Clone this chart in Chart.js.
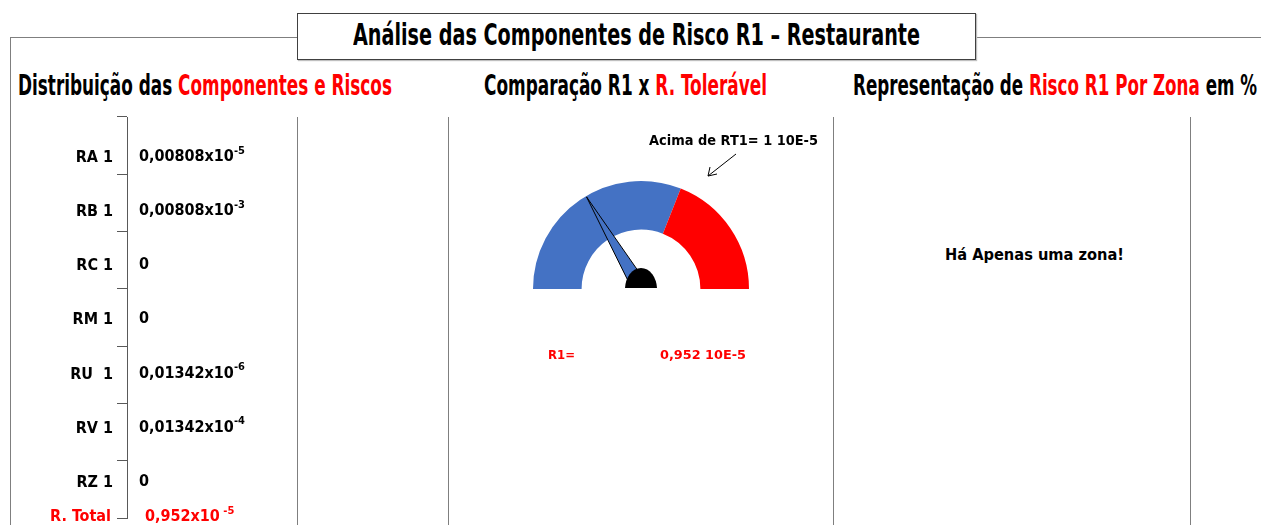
<!DOCTYPE html>
<html>
<head>
<meta charset="utf-8">
<script src="https://cdn.jsdelivr.net/npm/chart.js@4.4.1/dist/chart.umd.min.js"></script>
<style>
  html, body { margin: 0; padding: 0; background: #fff; }
  #page { position: relative; width: 1261px; height: 525px; overflow: hidden; background: #fff; }
  .abs { position: absolute; }
  .frame { left: 10px; top: 37px; width: 1260px; height: 500px; border-top: 1px solid #7f7f7f; border-left: 1px solid #7f7f7f; }
  .titleBox { left: 297px; top: 13px; width: 677px; height: 45px; border: 1px solid #404040; background: #fff; box-shadow: 1px 1px 1px #bfbfbf; }
  .sep { top: 117px; width: 1px; height: 410px; background: #7f7f7f; }
  .cond { font-family: "Liberation Sans Narrow", "DejaVu Sans Condensed", sans-serif; font-weight: bold; white-space: nowrap; transform-origin: 0 0; }
  .txt { font-family: "DejaVu Sans Condensed", "DejaVu Sans", sans-serif; font-weight: bold; white-space: nowrap; line-height: 20px; transform-origin: 0 0; }
  .red { color: #ff0000; }
</style>
</head>
<body>
<div id="page">
  <div class="abs frame"></div>
  <div class="abs titleBox"></div>
  <div class="abs cond fit" data-w="567" style="left:353px; top:19px; font-size:31px; line-height:31px;">Análise das Componentes de Risco R1 – Restaurante</div>

  <div class="abs cond fit" data-w="374" style="left:18px; top:71px; font-size:29px; line-height:29px;">Distribuição das <span class="red">Componentes e Riscos</span></div>
  <div class="abs cond fit" data-w="283" style="left:484px; top:71px; font-size:29px; line-height:29px;">Comparação R1 x <span class="red">R. Tolerável</span></div>
  <div class="abs cond fit" data-w="404" style="left:853px; top:71px; font-size:29px; line-height:29px;">Representação de <span class="red">Risco R1 Por Zona</span> em %</div>

  <div class="abs sep" style="left:297px;"></div>
  <div class="abs sep" style="left:448px;"></div>
  <div class="abs sep" style="left:833px;"></div>
  <div class="abs sep" style="left:1190px;"></div>

  <canvas id="barChart" class="abs" width="297" height="525" style="left:0; top:0;"></canvas>
  <canvas id="gaugeChart" class="abs" width="384" height="415" style="left:449px; top:110px;"></canvas>

  <!-- annotation of the tolerable limit -->
  <div id="rtLabel" class="abs txt fit" data-w="169" style="left:649px; top:130px; font-size:14px;"></div>
  <svg class="abs" style="left:700px; top:148px;" width="45" height="35">
    <line x1="36" y1="6" x2="8" y2="28" stroke="#000" stroke-width="1"/>
    <polyline points="10,19 8,28 17,26" fill="none" stroke="#000" stroke-width="1"/>
  </svg>
  <div id="r1Name" class="abs txt red" style="left:548px; top:345px; font-size:13px; font-weight:600;"></div>
  <div id="r1Value" class="abs txt red fit" data-w="86" style="left:660px; top:345px; font-size:13px;"></div>

  <div id="zoneNote" class="abs txt fit" data-w="179" style="left:945px; top:245px; font-size:16px;"></div>
</div>

<script>
// risk components (R1 = RA + RB + RC + RM + RU + RV + RZ)
const riskLabels = ["RA 1", "RB 1", "RC 1", "RM 1", "RU  1", "RV 1", "RZ 1"];
const riskCoef = [0.00808, 0.00808, 0, 0, 0.01342, 0.01342, 0];
const riskExp = [-5, -3, null, null, -6, -4, null];
const totalLabel = "R. Total";
const totalCoef = 0.952;
const totalExp = -5;

// gauge: share of the dial for each zone, needle position on the same dial
const gaugeLabels = ["Abaixo de RT1", "Acima de RT1"];
const gaugeZones = [62, 38];
const gaugeColors = ["#4472c4", "#ff0000"];
const needleValue = 33;

const rtText = "Acima de RT1= 1 10E-5";
const r1Name = "R1=";
const r1Text = "0,952 10E-5";
const zoneText = "Há Apenas uma zona!";

document.getElementById("rtLabel").textContent = rtText;
document.getElementById("r1Name").textContent = r1Name;
document.getElementById("r1Value").textContent = r1Text;
document.getElementById("zoneNote").textContent = zoneText;

// squeeze texts to the widths of the original
document.querySelectorAll(".fit").forEach(el => {
  const w = el.getBoundingClientRect().width;
  el.style.transform = "scaleX(" + (el.dataset.w / w) + ")";
});

const riskValues = riskCoef.map((c, i) => (riskExp[i] === null ? 0 : c * Math.pow(10, riskExp[i])));
const fmt = c => String(c).replace(".", ",");
const labelFont = "bold 16px 'DejaVu Sans Condensed', 'DejaVu Sans', sans-serif";
const supFont = "bold 11px 'DejaVu Sans Condensed', 'DejaVu Sans', sans-serif";

function drawSci(ctx, x, y, main, sup, color) {
  ctx.fillStyle = color;
  ctx.textAlign = "left";
  ctx.textBaseline = "middle";
  ctx.font = labelFont;
  ctx.fillText(main, x, y);
  if (sup) {
    const w = ctx.measureText(main).width;
    ctx.font = supFont;
    ctx.fillText(sup, x + w, y - 6);
  }
}

const valueLabels = {
  id: "valueLabels",
  afterDatasetsDraw(chart) {
    const ctx = chart.ctx;
    const yl = chart.scales.yl;
    const meta = chart.getDatasetMeta(0);
    ctx.save();
    meta.data.forEach((bar, i) => {
      const y = yl.getPixelForValue(i) - 1;
      const x = Math.min(bar.x, bar.base) + 12;
      if (riskExp[i] === null) drawSci(ctx, x, y, fmt(riskCoef[i]), null, "#000");
      else drawSci(ctx, x, y, fmt(riskCoef[i]) + "x10", String(riskExp[i]), "#000");
    });
    // total row sits on the last tick
    const yb = chart.chartArea.bottom - 1;
    ctx.font = labelFont;
    ctx.fillStyle = "#ff0000";
    ctx.textAlign = "right";
    ctx.textBaseline = "middle";
    ctx.fillText(totalLabel, yl.right - 6, yb);
    drawSci(ctx, chart.chartArea.left + 18, yb, fmt(totalCoef) + "x10", " " + totalExp, "#ff0000");
    ctx.restore();
  }
};

new Chart(document.getElementById("barChart"), {
  type: "bar",
  data: {
    labels: riskLabels,
    datasets: [{
      data: riskValues,
      xAxisID: "x",
      yAxisID: "y",
      backgroundColor: "rgba(68,114,196,0)",
      borderWidth: 0
    }]
  },
  options: {
    indexAxis: "y",
    responsive: false,
    animation: false,
    layout: { padding: { top: 117, bottom: 7, left: 0, right: 7 } },
    plugins: { legend: { display: false }, tooltip: { enabled: false } },
    scales: {
      x: { display: false, min: 0, max: 1e-3 },
      y: {
        position: "left",
        weight: 0,
        grid: { offset: true, drawOnChartArea: false, drawTicks: true, tickLength: 10, color: "#595959" },
        border: { color: "#595959" },
        ticks: { display: false },
        afterFit: s => { s.width = 10; s.paddingTop = 0; s.paddingBottom = 0; }
      },
      yl: {
        type: "linear",
        position: "left",
        weight: 1,
        reverse: true,
        offset: false,
        min: -0.75,
        max: 6.65,
        afterBuildTicks: s => { s.ticks = riskLabels.map((l, i) => ({ value: i })); },
        ticks: {
          callback: v => riskLabels[v],
          color: "#000",
          padding: 4,
          font: { family: "'DejaVu Sans Condensed', 'DejaVu Sans', sans-serif", size: 16, weight: "bold" }
        },
        grid: { display: false, drawTicks: false },
        border: { display: false },
        afterFit: s => { s.width = 117; s.paddingTop = 0; s.paddingBottom = 0; }
      }
    }
  },
  plugins: [valueLabels]
});

const needle = {
  id: "needle",
  afterDatasetsDraw(chart) {
    const arc = chart.getDatasetMeta(0).data[0];
    const cx = arc.x, cy = arc.y, r = arc.outerRadius - 1;
    const total = gaugeZones.reduce((a, b) => a + b, 0);
    const a = Math.PI + Math.PI * needleValue / total;
    const ctx = chart.ctx;
    const px = Math.cos(a + Math.PI / 2), py = Math.sin(a + Math.PI / 2);
    ctx.save();
    // keep the needle above the base line of the dial
    ctx.beginPath();
    ctx.rect(cx - r - 2, cy - r - 2, 2 * r + 4, r + 1);
    ctx.clip();
    ctx.beginPath();
    ctx.moveTo(cx + r * Math.cos(a), cy + r * Math.sin(a));
    ctx.lineTo(cx + 8 * px, cy + 8 * py);
    ctx.lineTo(cx - 8 * px, cy - 8 * py);
    ctx.closePath();
    ctx.fillStyle = "#4472c4";
    ctx.fill();
    ctx.strokeStyle = "#000";
    ctx.lineWidth = 1;
    ctx.stroke();
    ctx.beginPath();
    ctx.ellipse(cx, cy, 16, 21, 0, Math.PI, 2 * Math.PI);
    ctx.closePath();
    ctx.fillStyle = "#000";
    ctx.fill();
    ctx.restore();
  }
};

new Chart(document.getElementById("gaugeChart"), {
  type: "doughnut",
  data: {
    labels: gaugeLabels,
    datasets: [{ data: gaugeZones, backgroundColor: gaugeColors, borderWidth: 0 }]
  },
  options: {
    responsive: false,
    animation: false,
    rotation: -90,
    circumference: 180,
    cutout: "55%",
    layout: { padding: { left: 84, right: 84, top: 71, bottom: 236 } },
    plugins: { legend: { display: false }, tooltip: { enabled: false } }
  },
  plugins: [needle]
});
</script>
</body>
</html>
